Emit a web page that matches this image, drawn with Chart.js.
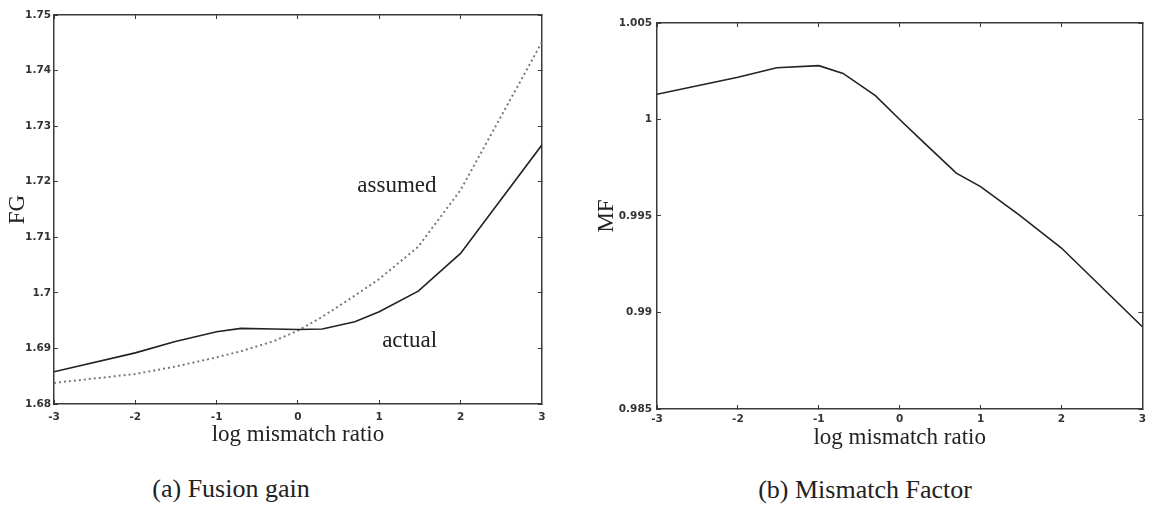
<!DOCTYPE html>
<html>
<head>
<meta charset="utf-8">
<script src="https://cdn.jsdelivr.net/npm/chart.js@4.4.1/dist/chart.umd.min.js"></script>
<style>
  html, body { margin: 0; padding: 0; background: #fff; }
  body { width: 1154px; height: 511px; position: relative; overflow: hidden; }
  .box { position: absolute; top: 0; height: 460px; }
  .cap { position: absolute; font-family: "Liberation Serif", serif; font-size: 26px; color: #222;
         transform: translate(-50%, -50%); white-space: nowrap; }
</style>
</head>
<body>
<div class="box" style="left:0;width:556px;"><canvas id="c1"></canvas></div>
<div class="box" style="left:560px;width:594px;"><canvas id="c2"></canvas></div>
<div class="cap" style="left:231px;top:489px;">(a) Fusion gain</div>
<div class="cap" style="left:865px;top:490px;">(b) Mismatch Factor</div>
<script>
// ---- data ----
const logRatio   = [-3, -2, -1.52, -1, -0.7, -0.3, 0, 0.3, 0.7, 1, 1.48, 2, 3];
const fgActual   = [1.6858, 1.6892, 1.6912, 1.6930, 1.6936, 1.6935, 1.6934, 1.6935, 1.6948, 1.6966, 1.7003, 1.7071, 1.7266];
const fgAssumed  = [1.6838, 1.6854, 1.6867, 1.6884, 1.6895, 1.6913, 1.6932, 1.6957, 1.6995, 1.7025, 1.7083, 1.7185, 1.7451];
const mfValues   = [1.00131, 1.00219, 1.00268, 1.00279, 1.00239, 1.00124, 1.00000, 0.99880, 0.99722, 0.99652, 0.99505, 0.99334, 0.98926];
const xTickValues = [-3, -2, -1, 0, 1, 2, 3];
const xTickLabels = ['-3', '-2', '-1', '0', '1', '2', '3'];
const fgTickValues = [1.68, 1.69, 1.70, 1.71, 1.72, 1.73, 1.74, 1.75];
const fgTickLabels = ['1.68', '1.69', '1.7', '1.71', '1.72', '1.73', '1.74', '1.75'];
const mfTickValues = [0.985, 0.990, 0.995, 1.000, 1.005];
const mfTickLabels = ['0.985', '0.99', '0.995', '1', '1.005'];
const fgNotes = [
  { text: 'assumed', x: 0.73, y: 1.7181 },
  { text: 'actual',  x: 1.036, y: 1.6903 }
];

const pts = (xs, ys) => xs.map((x, i) => ({ x: x, y: ys[i] }));
const AX = '#3a3a3a';
const tickFont = { family: 'DejaVu Sans', size: 10.5, weight: 'bold' };
const serif = { family: 'Liberation Serif', size: 23 };

function setTicks(values) {
  return s => { s.ticks = values.map(v => ({ value: v })); };
}
function labelFrom(values, labels) {
  return v => { const i = values.findIndex(t => Math.abs(t - v) < 1e-9); return i >= 0 ? labels[i] : ''; };
}
function axisBase(min, max, values, labels, extra) {
  return Object.assign({
    type: 'linear', min: min, max: max,
    afterBuildTicks: setTicks(values),
    grid: { drawOnChartArea: false, drawTicks: true, tickLength: -4, color: AX, lineWidth: 1 },
    border: { display: true, color: AX, width: 1.5 },
    ticks: { color: '#333', font: tickFont, autoSkip: false, maxRotation: 0,
             callback: labelFrom(values, labels) }
  }, extra);
}

const notesPlugin = {
  id: 'notes',
  afterDatasetsDraw(chart, args, opts) {
    if (!opts.items) return;
    const { ctx, scales } = chart;
    ctx.save();
    ctx.font = '23px "Liberation Serif"';
    ctx.fillStyle = '#222';
    ctx.textAlign = 'left';
    ctx.textBaseline = 'alphabetic';
    opts.items.forEach(n => {
      ctx.fillText(n.text, scales.x.getPixelForValue(n.x), scales.y.getPixelForValue(n.y));
    });
    ctx.restore();
  }
};

function makeChart(id, cfg) {
  return new Chart(document.getElementById(id), {
    type: 'line',
    data: { datasets: cfg.datasets },
    plugins: [notesPlugin],
    options: {
      responsive: true, maintainAspectRatio: false, animation: false, devicePixelRatio: 1,
      layout: { padding: cfg.padding },
      elements: { point: { radius: 0 }, line: { tension: 0 } },
      plugins: { legend: { display: false }, tooltip: { enabled: false }, notes: { items: cfg.notes } },
      scales: {
        x: axisBase(-3, 3, xTickValues, xTickLabels, {
          position: 'bottom',
          afterFit: s => { s.height = cfg.xH; },
          ticks: { color: '#333', font: tickFont, autoSkip: false, maxRotation: 0,
                   callback: labelFrom(xTickValues, xTickLabels), padding: cfg.xTickPad },
          title: { display: true, text: 'log mismatch ratio', color: '#222', font: serif,
                   padding: { top: 0, bottom: cfg.xTitlePad } }
        }),
        y: axisBase(cfg.yMin, cfg.yMax, cfg.yVals, cfg.yLabels, {
          position: 'left',
          afterFit: s => { s.width = cfg.yW; },
          ticks: { color: '#333', font: tickFont, autoSkip: false,
                   callback: labelFrom(cfg.yVals, cfg.yLabels), padding: cfg.yTickPad },
          title: { display: true, text: cfg.yTitle, color: '#222', font: serif,
                   padding: { top: cfg.yTitlePad, bottom: 0 } }
        }),
        x2: axisBase(-3, 3, xTickValues, xTickLabels, {
          position: 'top', afterFit: s => { s.height = 0; },
          ticks: { display: false }
        }),
        y2: axisBase(cfg.yMin, cfg.yMax, cfg.yVals, cfg.yLabels, {
          position: 'right', afterFit: s => { s.width = 0; },
          ticks: { display: false }
        })
      }
    }
  });
}

makeChart('c1', {
  datasets: [
    { data: pts(logRatio, fgActual), borderColor: '#222', borderWidth: 1.6, fill: false },
    { data: pts(logRatio, fgAssumed), borderColor: '#7a7a7a', borderWidth: 2, borderDash: [2, 3], fill: false }
  ],
  padding: { left: 0, top: 15, right: 5, bottom: 0 },
  xH: 56, xTickPad: 10.5, xTitlePad: 11.2,
  yMin: 1.68, yMax: 1.75, yVals: fgTickValues, yLabels: fgTickLabels,
  yW: 54, yTickPad: 7, yTitle: 'FG', yTitlePad: 4.2,
  notes: fgNotes
});

makeChart('c2', {
  datasets: [
    { data: pts(logRatio, mfValues), borderColor: '#222', borderWidth: 1.6, fill: false }
  ],
  padding: { left: 0, top: 23, right: 4, bottom: 0 },
  xH: 51, xTickPad: 8, xTitlePad: 8.2,
  yMin: 0.985, yMax: 1.005, yVals: mfTickValues, yLabels: mfTickLabels,
  yW: 97, yTickPad: 9, yTitle: 'MF', yTitlePad: 33.2,
  notes: []
});
</script>
</body>
</html>
